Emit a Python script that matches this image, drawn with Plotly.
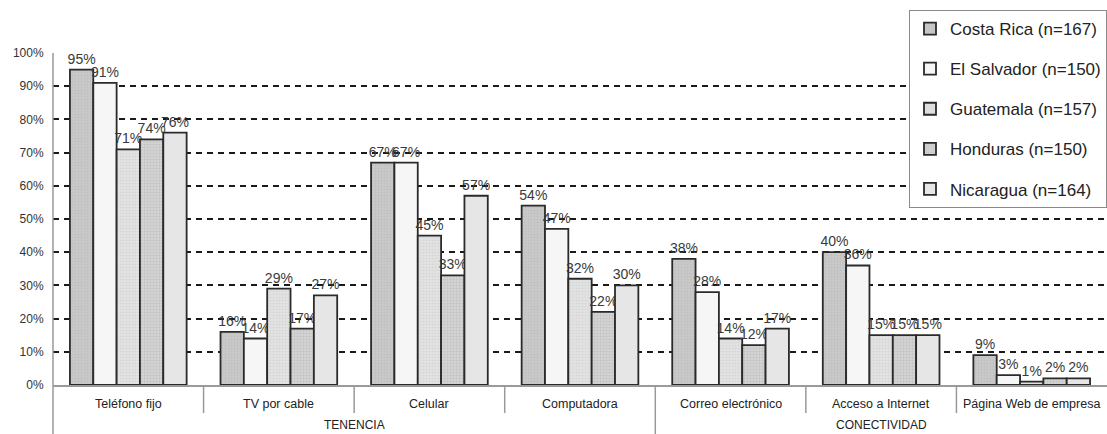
import plotly.graph_objects as go

categories = ["Teléfono fijo", "TV por cable", "Celular", "Computadora",
              "Correo electrónico", "Acceso a Internet", "Página Web de empresa"]
groups = ["TENENCIA", "CONECTIVIDAD"]
group_sizes = [4, 3]
series_names = ["Costa Rica (n=167)", "El Salvador (n=150)", "Guatemala (n=157)",
                "Honduras (n=150)", "Nicaragua (n=164)"]
costa_rica = [95, 16, 67, 54, 38, 40, 9]
el_salvador = [91, 14, 67, 47, 28, 36, 3]
guatemala = [71, 29, 45, 32, 14, 15, 1]
honduras = [74, 17, 33, 22, 12, 15, 2]
nicaragua = [76, 27, 57, 30, 17, 15, 2]
series_values = [costa_rica, el_salvador, guatemala, honduras, nicaragua]

fills = ["#c9c9c9", "#f6f6f6", "#e4e4e4", "#d4d4d4", "#e6e6e6"]
patterns = [dict(shape=".", fgcolor="#b4b4b4", size=3, solidity=0.3),
            dict(shape=""),
            dict(shape=".", fgcolor="#c8c8c8", size=3, solidity=0.4),
            dict(shape="+", fgcolor="#adadad", size=3, solidity=0.3),
            dict(shape="")]

FONT = "Arial, Liberation Sans, sans-serif"
fig = go.Figure()
for i, (name, vals) in enumerate(zip(series_names, series_values)):
    fig.add_trace(go.Bar(
        x=categories, y=[v / 100 for v in vals], name=name,
        legendgroup=name,
        marker=dict(color=fills[i], line=dict(color="#2a2a2a", width=1.8),
                    pattern=patterns[i]),
        text=[f"{v}%" for v in vals], textposition="outside",
        textfont=dict(family=FONT, size=14, color="#3a3a3a"),
        constraintext="none", cliponaxis=False,
    ))

W, H = 1107, 434
L, T, B = 53, 53, 49
ph = H - T - B
def py(pix):
    return (H - B - pix) / ph

n = len(categories)
shapes = []
annotations = []
shapes.append(dict(type="line", xref="paper", yref="paper", x0=0, x1=0,
                   y0=1, y1=py(434), line=dict(color="#9a9a9a", width=1.5)))
for k in range(1, n):
    bottom = py(434) if k == group_sizes[0] else py(413)
    shapes.append(dict(type="line", xref="paper", yref="paper", x0=k / n, x1=k / n,
                       y0=0, y1=bottom, line=dict(color="#9a9a9a", width=1.5)))
for k, c in enumerate(categories):
    annotations.append(dict(xref="paper", yref="paper", x=(k + 0.5) / n, y=py(404),
                            text=c, showarrow=False, xanchor="center", yanchor="middle",
                            font=dict(family=FONT, size=12.5, color="#222")))
start = 0
for g, sz in zip(groups, group_sizes):
    annotations.append(dict(xref="paper", yref="paper", x=(start + sz / 2) / n, y=py(425),
                            text=g, showarrow=False, xanchor="center", yanchor="middle",
                            font=dict(family=FONT, size=12, color="#222")))
    start += sz

fig.update_layout(
    width=W, height=H, margin=dict(l=L, r=0, t=T, b=B),
    paper_bgcolor="white", plot_bgcolor="white",
    barmode="group", bargap=0.225, bargroupgap=0,
    font=dict(family=FONT, color="#333"),
    shapes=shapes, annotations=annotations,
    legend=dict(x=1, y=py(10), xanchor="right", yanchor="top",
                bgcolor="white", bordercolor="#8a8a8a", borderwidth=1,
                font=dict(family=FONT, size=17, color="#222"),
                tracegroupgap=15, itemwidth=30),
    xaxis=dict(showticklabels=False, showgrid=False, showline=True,
               linecolor="#9a9a9a", linewidth=1.5, ticks=""),
    yaxis=dict(range=[0, 1], dtick=0.1, tickformat=".0%", showgrid=True,
               gridcolor="#1a1a1a", gridwidth=2, griddash="6px,5px",
               showline=False, zeroline=False, ticks="outside", ticklen=6,
               tickcolor="rgba(0,0,0,0)",
               tickfont=dict(family=FONT, size=12, color="#333")),
)
fig.write_html("out.html")
